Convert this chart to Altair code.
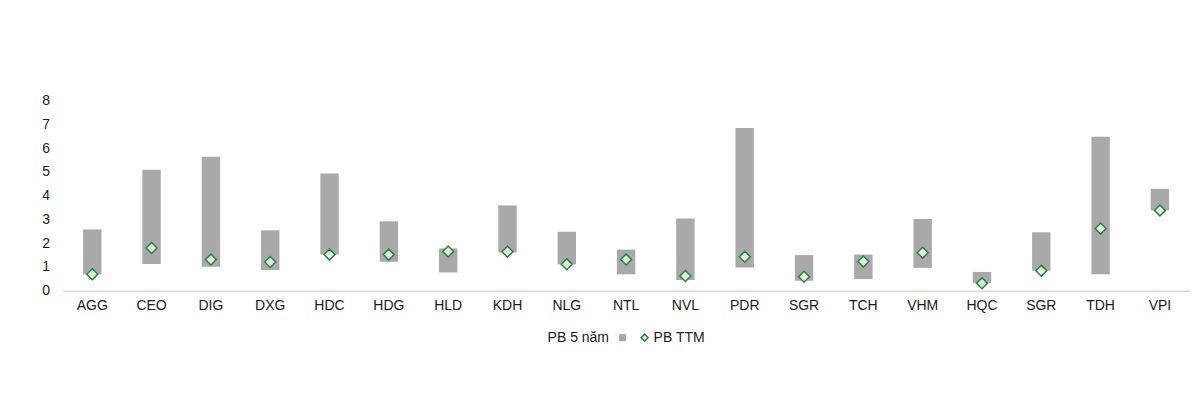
import altair as alt
import pandas as pd

# Tickers (SGR appears twice in the source chart)
tickers = ["AGG", "CEO", "DIG", "DXG", "HDC", "HDG", "HLD", "KDH", "NLG", "NTL",
           "NVL", "PDR", "SGR", "TCH", "VHM", "HQC", "SGR", "TDH", "VPI"]
# 5-year P/B range (low / high)
pb_low = [0.69, 1.12, 1.01, 0.87, 1.52, 1.22, 0.77, 1.61, 1.11, 0.69,
          0.45, 0.98, 0.42, 0.49, 0.96, 0.32, 0.84, 0.69, 3.38]
pb_high = [2.58, 5.09, 5.64, 2.54, 4.93, 2.92, 1.78, 3.59, 2.48, 1.73,
           3.04, 6.85, 1.50, 1.52, 3.02, 0.79, 2.46, 6.48, 4.29]
# Trailing P/B
pb_ttm = [0.69, 1.80, 1.31, 1.21, 1.52, 1.52, 1.65, 1.64, 1.11, 1.31,
          0.62, 1.43, 0.59, 1.23, 1.60, 0.31, 0.84, 2.62, 3.38]

y_ticks = [0, 1, 2, 3, 4, 5, 6, 7, 8]
legend_domain = ["PB 5 năm", "range", "PB TTM"]

keys = [f"{i:02d}" for i in range(len(tickers))]
df = pd.DataFrame({
    "key": keys,
    "ticker": tickers,
    "low": pb_low,
    "high": pb_high,
    "ttm": pb_ttm,
})
df["bar_series"] = "range"
df["pt_series"] = "PB TTM"

label_map = "{" + ",".join(f"'{k}':'{t}'" for k, t in zip(keys, tickers)) + "}"

FONT = "Liberation Sans"

x_enc = alt.X(
    "key:N",
    sort=keys,
    title=None,
    scale=alt.Scale(paddingInner=0.69, paddingOuter=0.345),
    axis=alt.Axis(
        labelExpr=f"{label_map}[datum.value]",
        labelAngle=0,
        ticks=False,
        domain=True,
        domainColor="#d9d9d9",
        domainWidth=1.5,
        labelPadding=8,
        labelFontSize=14,
        labelColor="#1a1a1a",
        labelFont=FONT,
        grid=False,
    ),
)

y_scale = alt.Scale(domain=[0, 8], nice=False)
y_axis = alt.Axis(
    values=y_ticks,
    domain=False,
    ticks=False,
    grid=False,
    labelPadding=13,
    labelFontSize=14,
    labelColor="#1a1a1a",
    labelFont=FONT,
    title=None,
)

fill_scale = alt.Scale(domain=legend_domain, range=["transparent", "#a9a9a9", "#e2f0d9"])
stroke_scale = alt.Scale(domain=legend_domain, range=["transparent", "transparent", "#2e7d4f"])
shape_scale = alt.Scale(domain=legend_domain, range=["square", "square", "diamond"])

legend = alt.Legend(
    title=None,
    orient="none",
    direction="horizontal",
    legendX=469,
    legendY=230,
    labelFontSize=14,
    labelFont=FONT,
    labelColor="#1a1a1a",
    labelOffset=2,
    columnPadding=6,
    symbolSize=50,
    symbolStrokeWidth=1.5,
    labelExpr="datum.value == 'range' ? '' : datum.value",
)

bars = alt.Chart(df).mark_bar().encode(
    x=x_enc,
    y=alt.Y("low:Q", scale=y_scale, axis=y_axis),
    y2="high:Q",
    fill=alt.Fill("bar_series:N", scale=fill_scale, legend=legend),
)

points = alt.Chart(df).mark_point(filled=True, size=120, strokeWidth=1.5, opacity=1).encode(
    x=x_enc,
    y=alt.Y("ttm:Q", scale=y_scale, axis=y_axis),
    fill=alt.Fill("pt_series:N", scale=fill_scale, legend=legend),
    stroke=alt.Stroke("pt_series:N", scale=stroke_scale, legend=legend),
    shape=alt.Shape("pt_series:N", scale=shape_scale, legend=legend),
)

chart = alt.layer(bars, points).resolve_scale(
    fill="shared"
).properties(
    width=1127,
    height=190,
    autosize=alt.AutoSizeParams(type="none"),
    padding={"left": 54.6, "top": 92.7, "right": 2, "bottom": 100},
).configure(
    background="white"
).configure_view(
    stroke=None,
    strokeWidth=0
)

chart.save("out.html", embed_options={"renderer": "svg", "actions": False})
